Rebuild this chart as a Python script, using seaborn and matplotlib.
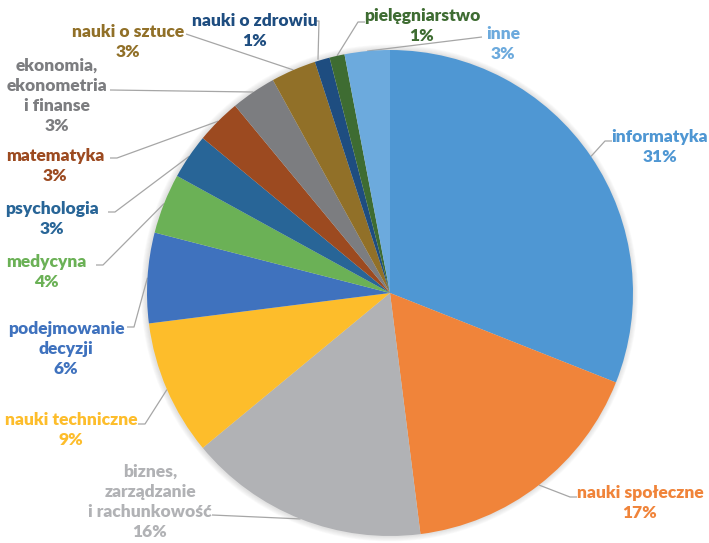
import matplotlib
matplotlib.use("Agg")
import matplotlib.pyplot as plt
import seaborn as sns
import numpy as np
from matplotlib.patches import Circle

# Fields of study and their shares (%)
categories = [
    "informatyka",
    "nauki społeczne",
    "biznes,\nzarządzanie\ni rachunkowość",
    "nauki techniczne",
    "podejmowanie\ndecyzji",
    "medycyna",
    "psychologia",
    "matematyka",
    "ekonomia,\nekonometria\ni finanse",
    "nauki o sztuce",
    "nauki o zdrowiu",
    "pielęgniarstwo",
    "inne",
]
shares = [31, 17, 16, 9, 6, 4, 3, 3, 3, 3, 1, 1, 3]

palette = [
    "#4F97D3", "#F0843A", "#B1B2B5", "#FDBD2B", "#3F72BE", "#6BB156",
    "#286597", "#9C4A20", "#7C7D80", "#917028", "#1E4D80", "#3E6C32",
    "#6CAADD",
]

# Canvas in pixel units (y measured from the top)
W, H = 709, 543
CX, CY, R = 390, 293, 243

# Label block centres and where each leader meets its label
label_xy = [
    (660, 147), (640, 503), (150, 502), (71, 430), (66, 349), (46, 272),
    (52, 219), (55, 166), (57, 96), (128, 42), (255, 31), (422, 26),
    (503, 44),
]
leader_end = [
    (612, 141), (577, 497), (212, 515), (138, 424), (127, 327), (96, 265),
    (108, 212), (110, 158), (110, 90), (186, 34), (316, 21), (365, 22),
    (482, 37),
]
stub_dx = [-7, -7, 0, 7, 7, 7, 7, 7, 0, 0, 3, -7, 0]


def to_data(x, y):
    return x, H - y


sns.set_theme(style="white")
plt.rcParams["font.family"] = ["Lato", "DejaVu Sans"]

fig = plt.figure(figsize=(W / 100, H / 100), dpi=100)
ax = fig.add_axes([0, 0, 1, 1])

cx, cy = to_data(CX, CY)

# soft outer shadow around the pie
for i in range(6, 0, -1):
    ax.add_patch(Circle((cx - 0.5, cy), R + i * 0.9, color="#9a9a9a",
                        alpha=0.05, lw=0, zorder=0))

wedges, _ = ax.pie(
    shares,
    colors=palette,
    startangle=90,
    counterclock=False,
    center=(cx, cy),
    radius=R,
    wedgeprops=dict(linewidth=0),
)

for w, name, v, col, (lx, ly), (ex, ey), sdx in zip(
        wedges, categories, shares, palette, label_xy, leader_end, stub_dx):
    w.set_zorder(2)
    mid = np.deg2rad((w.theta1 + w.theta2) / 2)
    ax_, ay_ = cx + R * np.cos(mid), cy + R * np.sin(mid)
    exd, eyd = to_data(ex, ey)
    if name == "nauki o zdrowiu":
        # leader drops straight down from the end of the label
        xs = [exd, exd + sdx, exd + sdx - 1]
        ys = [eyd, eyd, ay_]
    elif sdx:
        xs = [ax_, exd + sdx, exd]
        ys = [ay_, eyd, eyd]
    else:
        xs = [ax_, exd]
        ys = [ay_, eyd]
    ax.plot(xs, ys, color="#A6A6A6", lw=0.9, zorder=1, solid_capstyle="butt")
    tx, ty = to_data(lx, ly)
    ax.text(tx, ty, f"{name}\n{v}%", ha="center", va="center", color=col,
            fontsize=12.5, fontweight="heavy", linespacing=1.32, zorder=3)

ax.set_xlim(0, W)
ax.set_ylim(0, H)
ax.set_aspect("equal")
ax.set_axis_off()

fig.savefig("out.png", dpi=100, facecolor="white")
